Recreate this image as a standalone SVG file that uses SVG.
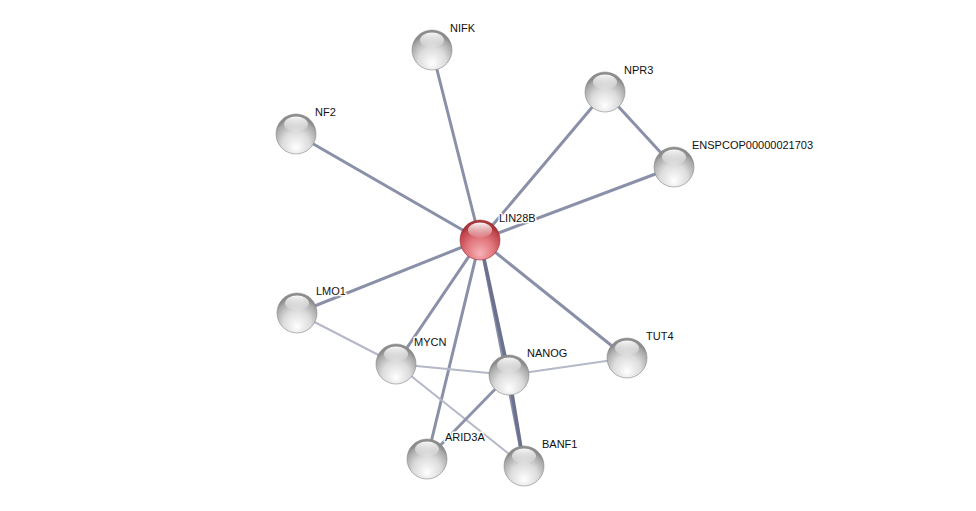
<svg xmlns="http://www.w3.org/2000/svg" width="976" height="511" viewBox="0 0 976 511">
<defs>
<radialGradient id="gray" cx="0.5" cy="0.72" r="0.62" fx="0.5" fy="0.85">
<stop offset="0" stop-color="#ffffff"/>
<stop offset="0.55" stop-color="#dcdcdc"/>
<stop offset="0.9" stop-color="#a8a8a8"/>
<stop offset="1" stop-color="#8c8c8c"/>
</radialGradient>
<radialGradient id="red" cx="0.5" cy="0.72" r="0.62" fx="0.5" fy="0.85">
<stop offset="0" stop-color="#f7b3b6"/>
<stop offset="0.55" stop-color="#e0757b"/>
<stop offset="0.9" stop-color="#c0454c"/>
<stop offset="1" stop-color="#a8343a"/>
</radialGradient>
<linearGradient id="hl" x1="0" y1="0" x2="0" y2="1">
<stop offset="0" stop-color="#ffffff" stop-opacity="0.95"/>
<stop offset="1" stop-color="#ffffff" stop-opacity="0.1"/>
</linearGradient>
<g id="sph">
<circle r="20" fill="url(#gray)" stroke="#8a8a8a" stroke-width="0.6"/>
<ellipse cx="0" cy="-10" rx="12" ry="7.5" fill="url(#hl)"/>
</g>
<g id="sphr">
<circle r="20" fill="url(#red)" stroke="#a0343a" stroke-width="0.6"/>
<ellipse cx="0" cy="-10" rx="12" ry="7.5" fill="url(#hl)"/>
</g>
</defs>
<style>
.e{stroke:#8a90a8;stroke-width:3;stroke-linecap:round;fill:none}
.ed{stroke:#6c7190;stroke-width:3.5}
.el{stroke:#b4b8c8;stroke-width:2}
.em{stroke:#8d93ab;stroke-width:3}
.t{font-family:"Liberation Sans",Arial,sans-serif;font-size:11px;fill:#111;paint-order:stroke;stroke:#ffffff;stroke-width:3;stroke-linejoin:round}
</style>
<rect width="976" height="511" fill="#ffffff"/>
<g id="edges">
<line class="e" x1="480" y1="240" x2="432" y2="50"/>
<line class="e" x1="480" y1="240" x2="296" y2="134"/>
<line class="e" x1="480" y1="240" x2="605" y2="92"/>
<line class="e" x1="480" y1="240" x2="674" y2="167"/>
<line class="e" x1="605" y1="92" x2="674" y2="167"/>
<line class="e" x1="480" y1="240" x2="297" y2="313"/>
<line class="e" x1="480" y1="240" x2="396" y2="364"/>
<line class="e" x1="480" y1="240" x2="427" y2="459"/>
<line class="e" x1="480" y1="240" x2="524" y2="466"/>
<line class="e ed" x1="480" y1="240" x2="509" y2="375"/>
<line class="e ed" x1="509" y1="375" x2="524" y2="466"/>
<line class="e" x1="480" y1="240" x2="627" y2="358"/>
<line class="e el" x1="297" y1="313" x2="396" y2="364"/>
<line class="e el" x1="396" y1="364" x2="509" y2="375"/>
<line class="e el" x1="509" y1="375" x2="627" y2="358"/>
<line class="e el" x1="396" y1="364" x2="524" y2="466"/>
<line class="e em" x1="509" y1="375" x2="427" y2="459"/>
</g>
<g id="NIFK"><use href="#sph" x="432" y="50"/><text class="t" x="450" y="32">NIFK</text></g>
<g id="NPR3"><use href="#sph" x="605" y="92"/><text class="t" x="624" y="74">NPR3</text></g>
<g id="ENSPCOP00000021703"><use href="#sph" x="674" y="167"/><text class="t" x="692" y="149">ENSPCOP00000021703</text></g>
<g id="NF2"><use href="#sph" x="296" y="134"/><text class="t" x="315" y="116">NF2</text></g>
<g id="LMO1"><use href="#sph" x="297" y="313"/><text class="t" x="316" y="295">LMO1</text></g>
<g id="MYCN"><use href="#sph" x="396" y="364"/><text class="t" x="414" y="346">MYCN</text></g>
<g id="NANOG"><use href="#sph" x="509" y="375"/><text class="t" x="527" y="357">NANOG</text></g>
<g id="TUT4"><use href="#sph" x="627" y="358"/><text class="t" x="646" y="340">TUT4</text></g>
<g id="ARID3A"><use href="#sph" x="427" y="459"/><text class="t" x="445" y="441">ARID3A</text></g>
<g id="BANF1"><use href="#sph" x="524" y="466"/><text class="t" x="542" y="448">BANF1</text></g>
<g id="LIN28B"><use href="#sphr" x="480" y="240"/><text class="t" x="499" y="222">LIN28B</text></g>
</svg>
